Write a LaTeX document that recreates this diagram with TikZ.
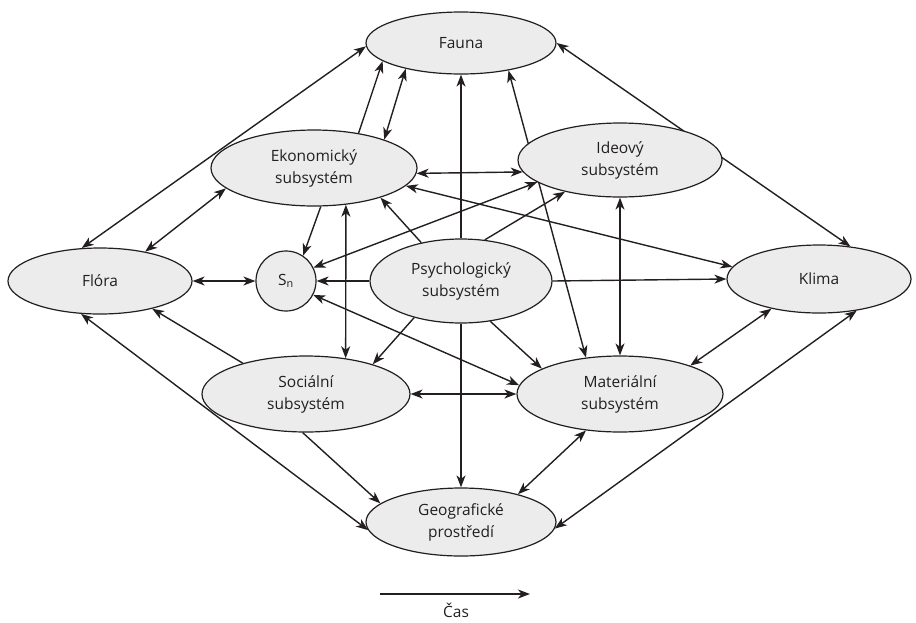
\documentclass[tikz,border=0pt]{standalone}
\usepackage{fontspec}
\setmainfont{Open Sans}
\usetikzlibrary{positioning, shapes.geometric, arrows.meta, backgrounds}
\definecolor{nodegray}{RGB}{235,236,235}
\definecolor{inkblack}{RGB}{35,31,32}

\begin{document}
\begin{tikzpicture}[x=1pt, y=1pt, node distance=160pt, auto, line width=1.4pt, draw=inkblack,
    >={Stealth[length=12pt, width=9pt, inset=3.5pt]}, font=\fontsize{15.5}{22}\selectfont]
            % Define block styles
            \tikzstyle{block} = [ellipse, draw, fill=nodegray, text=inkblack, line width=1.2pt, inner sep=0pt, align=center, minimum width=206pt, minimum height=76pt]
            \tikzstyle{link} = [draw=inkblack, line width=1.4pt]

            \useasboundingbox (0,0) rectangle (916,-622);

            % Place nodes
            \node [block, minimum width=182pt, minimum height=84pt] (psych) at (461,-281) {Psychologický\\subsystém};
            \node [block, circle, minimum width=60pt, minimum height=60pt, left of=psych, xshift=-15pt] (sn) {S\textsubscript{n}};
            \node [block, minimum width=184pt, minimum height=66pt, left of=sn, xshift=-26pt] (flora) {Flóra};
            \node [block, minimum width=184pt, minimum height=68pt, right of=psych, xshift=198pt, yshift=2pt] (klima) {Klima};
            \node [block, minimum width=204pt, minimum height=74pt, right of=psych, xshift=-1pt, yshift=121pt] (ideovy) {Ideový\\subsystém};
            \node [block, right of=psych, xshift=-1pt, yshift=-113pt] (mat) {Materiální\\subsystém};
            \node [block, left of=psych, xshift=13pt, yshift=113pt] (ekon) {Ekonomický\\subsystém};
            \node [block, minimum width=208pt, left of=psych, xshift=5pt, yshift=-113pt] (soc) {Sociální\\subsystém};
            \node [block, minimum width=190pt, minimum height=62pt, above of=psych, yshift=78pt] (fauna) {Fauna};
            \node [block, minimum width=190pt, minimum height=68pt, below of=psych, yshift=-81pt] (geo) {Geografické\\prostředí};

            % Time axis
            \coordinate (tstart) at (380,-594);
            \coordinate (tend) at (530,-594);
            \node [text=inkblack, inner sep=1pt] (cas) at (456,-610) {Čas};
            \draw [link, ->] (tstart) -- (tend);

            % Draw connections as arrows
            \begin{pgfonlayer}{background}
            \draw [link, <->] (flora.119) -- (fauna.182);
            \draw [link, <->] (flora.33) -- (ekon.193);
            \draw [link, <->] (flora.east) -- (sn.west);
            \draw [link, ->] (soc.154) -- (flora.-28);
            \draw [link, <->] (flora.240) -- (geo.185);
            \draw [link, ->] (soc.265) -- (geo.167);
            \draw [link, ->] (psych) -- (fauna);
            \draw [link, ->] (psych) -- (geo);
            \draw [link, <->] (mat.227) -- (geo.26);
            \draw [link, <->] (klima.-40) -- (geo.-4);
            \draw [link, <->] (klima.212) -- (mat.22);
            \draw [link, <->] (fauna.east) -- (klima.46);
            \draw [link, <->] (mat.133) -- (fauna.-30);
            \draw [link, ->] (ekon.38) -- (fauna.193);
            \draw [link, <->] (ekon.22) -- (fauna.205);
            \draw [link, <->] (ekon.-3) -- (ideovy.187);
            \draw [link, ->] (psych.136) -- (ekon.-24);
            \draw [link, <->] (ekon.-11) -- (klima.172);
            \draw [link, ->] (ekon.-80) -- (sn.56);
            \draw [link, <->] (ekon.-49) -- (soc.42);
            \draw [link, <->] (sn.26) -- (ideovy.195);
            \draw [link, ->] (psych.60) -- (ideovy.210);
            \draw [link, <->] (ideovy.south) -- (mat.north);
            \draw [link, ->] (psych.west) -- (sn.east);
            \draw [link, ->] (psych.east) -- (klima.west);
            \draw [link, ->] (psych.218) -- (soc.24);
            \draw [link, <->] (sn.-27) -- (mat.175);
            \draw [link, ->] (psych.-54) -- (mat.162);
            \draw [link, <->] (soc.east) -- (mat.west);
            \end{pgfonlayer}

        \end{tikzpicture}
\end{document}
